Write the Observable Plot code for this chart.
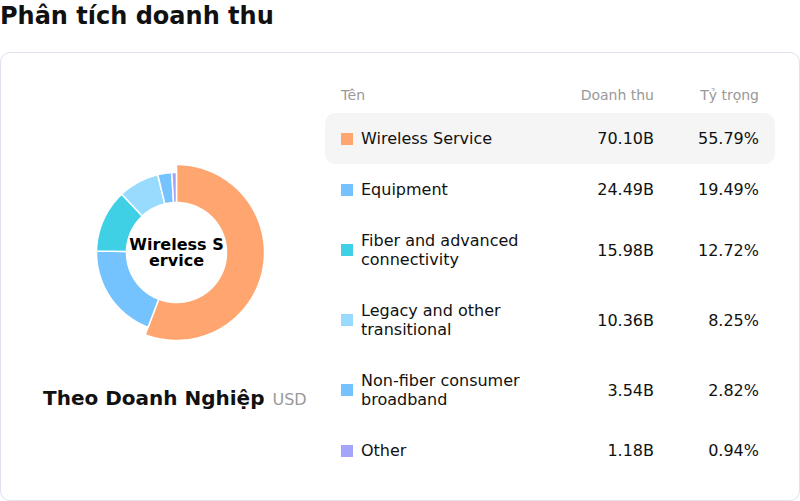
<!DOCTYPE html>
<html>
<head>
<meta charset="utf-8">
<script src="https://cdn.jsdelivr.net/npm/d3@7"></script>
<script src="https://cdn.jsdelivr.net/npm/@observablehq/plot@0.6"></script>
<style>
  html, body { margin: 0; padding: 0; background: #fff; }
  body { width: 800px; height: 501px; position: relative; overflow: hidden;
         font-family: "DejaVu Sans", sans-serif; color: #111; }
  #title { position: absolute; left: 0; top: 0; font-size: 24px; font-weight: bold; line-height: 32px; }
  #card { position: absolute; left: 0; top: 52px; width: 798px; height: 447px;
          border: 1px solid #e2e0ee; border-radius: 10px; }
  #donut { position: absolute; left: 75.5px; top: 152px; }
  #caption { position: absolute; left: 43px; top: 386px; white-space: nowrap; }
  #caption b { font-size: 20px; }
  #caption span { font-size: 16px; color: #999; margin-left: 8px; }
  #thead { position: absolute; left: 325px; top: 86px; width: 450px; }
  #table { position: absolute; left: 325px; top: 113px; width: 450px; }
  .row { display: grid; grid-template-columns: 1fr 100px 105px; padding: 16px 16px; border-radius: 10px;
         font-size: 16px; line-height: 19px; align-items: center; }
  .row.head { padding: 0 16px; font-size: 14px; color: #999; line-height: 18px; }
  .row.hl { background: #f5f5f5; }
  .name { display: flex; align-items: center; padding-right: 14px; }
  .sw { width: 12px; height: 12px; flex: none; margin-right: 8px; }
  .num { text-align: right; }
</style>
</head>
<body>
<div id="title">Phân tích doanh thu</div>
<div id="card"></div>
<div id="donut"></div>
<div id="caption"><b>Theo Doanh Nghiệp</b><span>USD</span></div>
<div id="thead"></div>
<div id="table"></div>
<script>
// Revenue by business segment (USD, billions)
const names = ["Wireless Service", "Equipment", "Fiber and advanced connectivity",
               "Legacy and other transitional", "Non-fiber consumer broadband", "Other"];
const values = [70.10, 24.49, 15.98, 10.36, 3.54, 1.18];
const valueLabels = ["70.10B", "24.49B", "15.98B", "10.36B", "3.54B", "1.18B"];
const shares = ["55.79%", "19.49%", "12.72%", "8.25%", "2.82%", "0.94%"];
const colors = ["#ffa56f", "#74c3ff", "#40d0e6", "#99daff", "#74c3ff", "#a4a4fa"];
const headers = ["Tên", "Doanh thu", "Tỷ trọng"];

// Donut geometry in plot units (1 unit = 1px); the highlighted segment is drawn larger
const R_OUT = 80, R_EMPH = 88, R_IN = 50;
const highlighted = 0;
const pie = d3.pie().sort(null).value(d => d.value)(names.map((name, i) => ({name, value: values[i], i})));

// Each slice becomes a closed ring segment: outer arc clockwise, inner arc back
const pts = [];
for (const s of pie) {
  const ro = s.data.i === highlighted ? R_EMPH : R_OUT;
  const n = Math.max(4, Math.ceil((s.endAngle - s.startAngle) / 0.02));
  const ring = [];
  for (let k = 0; k <= n; k++) {
    const a = s.startAngle + (s.endAngle - s.startAngle) * k / n;
    ring.push([ro * Math.sin(a), ro * Math.cos(a)]);
  }
  for (let k = n; k >= 0; k--) {
    const a = s.startAngle + (s.endAngle - s.startAngle) * k / n;
    ring.push([R_IN * Math.sin(a), R_IN * Math.cos(a)]);
  }
  ring.push(ring[0]);
  for (const [x, y] of ring) pts.push({x, y, name: s.data.name});
}

// Center label: highlighted segment's name broken into 10-character lines
const centerLabel = names[highlighted].match(/.{1,10}/g).join("\n");

const chart = Plot.plot({
  width: 200, height: 200,
  margin: 0,
  x: {domain: [-100, 100], axis: null},
  y: {domain: [-100, 100], axis: null},
  color: {domain: names, range: colors},
  marks: [
    Plot.line(pts, {x: "x", y: "y", z: "name", fill: "name", stroke: "white", strokeWidth: 1.5,
      strokeLinejoin: "round", curve: "linear"}),
    Plot.text([centerLabel], {x: () => 0, y: () => 0, text: d => d, fontSize: 16, fontWeight: "bold",
      lineHeight: 1, fill: "#000", fontFamily: "DejaVu Sans"})
  ]
});
chart.style.fontFamily = "DejaVu Sans";
document.getElementById("donut").appendChild(chart);

// Segment table
const head = document.createElement("div");
head.className = "row head";
head.innerHTML = `<div>${headers[0]}</div><div class="num">${headers[1]}</div><div class="num">${headers[2]}</div>`;
document.getElementById("thead").appendChild(head);

const table = document.getElementById("table");
names.forEach((name, i) => {
  const row = document.createElement("div");
  row.className = "row" + (i === highlighted ? " hl" : "");
  row.innerHTML = `<div class="name"><span class="sw" style="background:${colors[i]}"></span><span>${name}</span></div>` +
    `<div class="num">${valueLabels[i]}</div><div class="num">${shares[i]}</div>`;
  table.appendChild(row);
});
</script>
</body>
</html>
